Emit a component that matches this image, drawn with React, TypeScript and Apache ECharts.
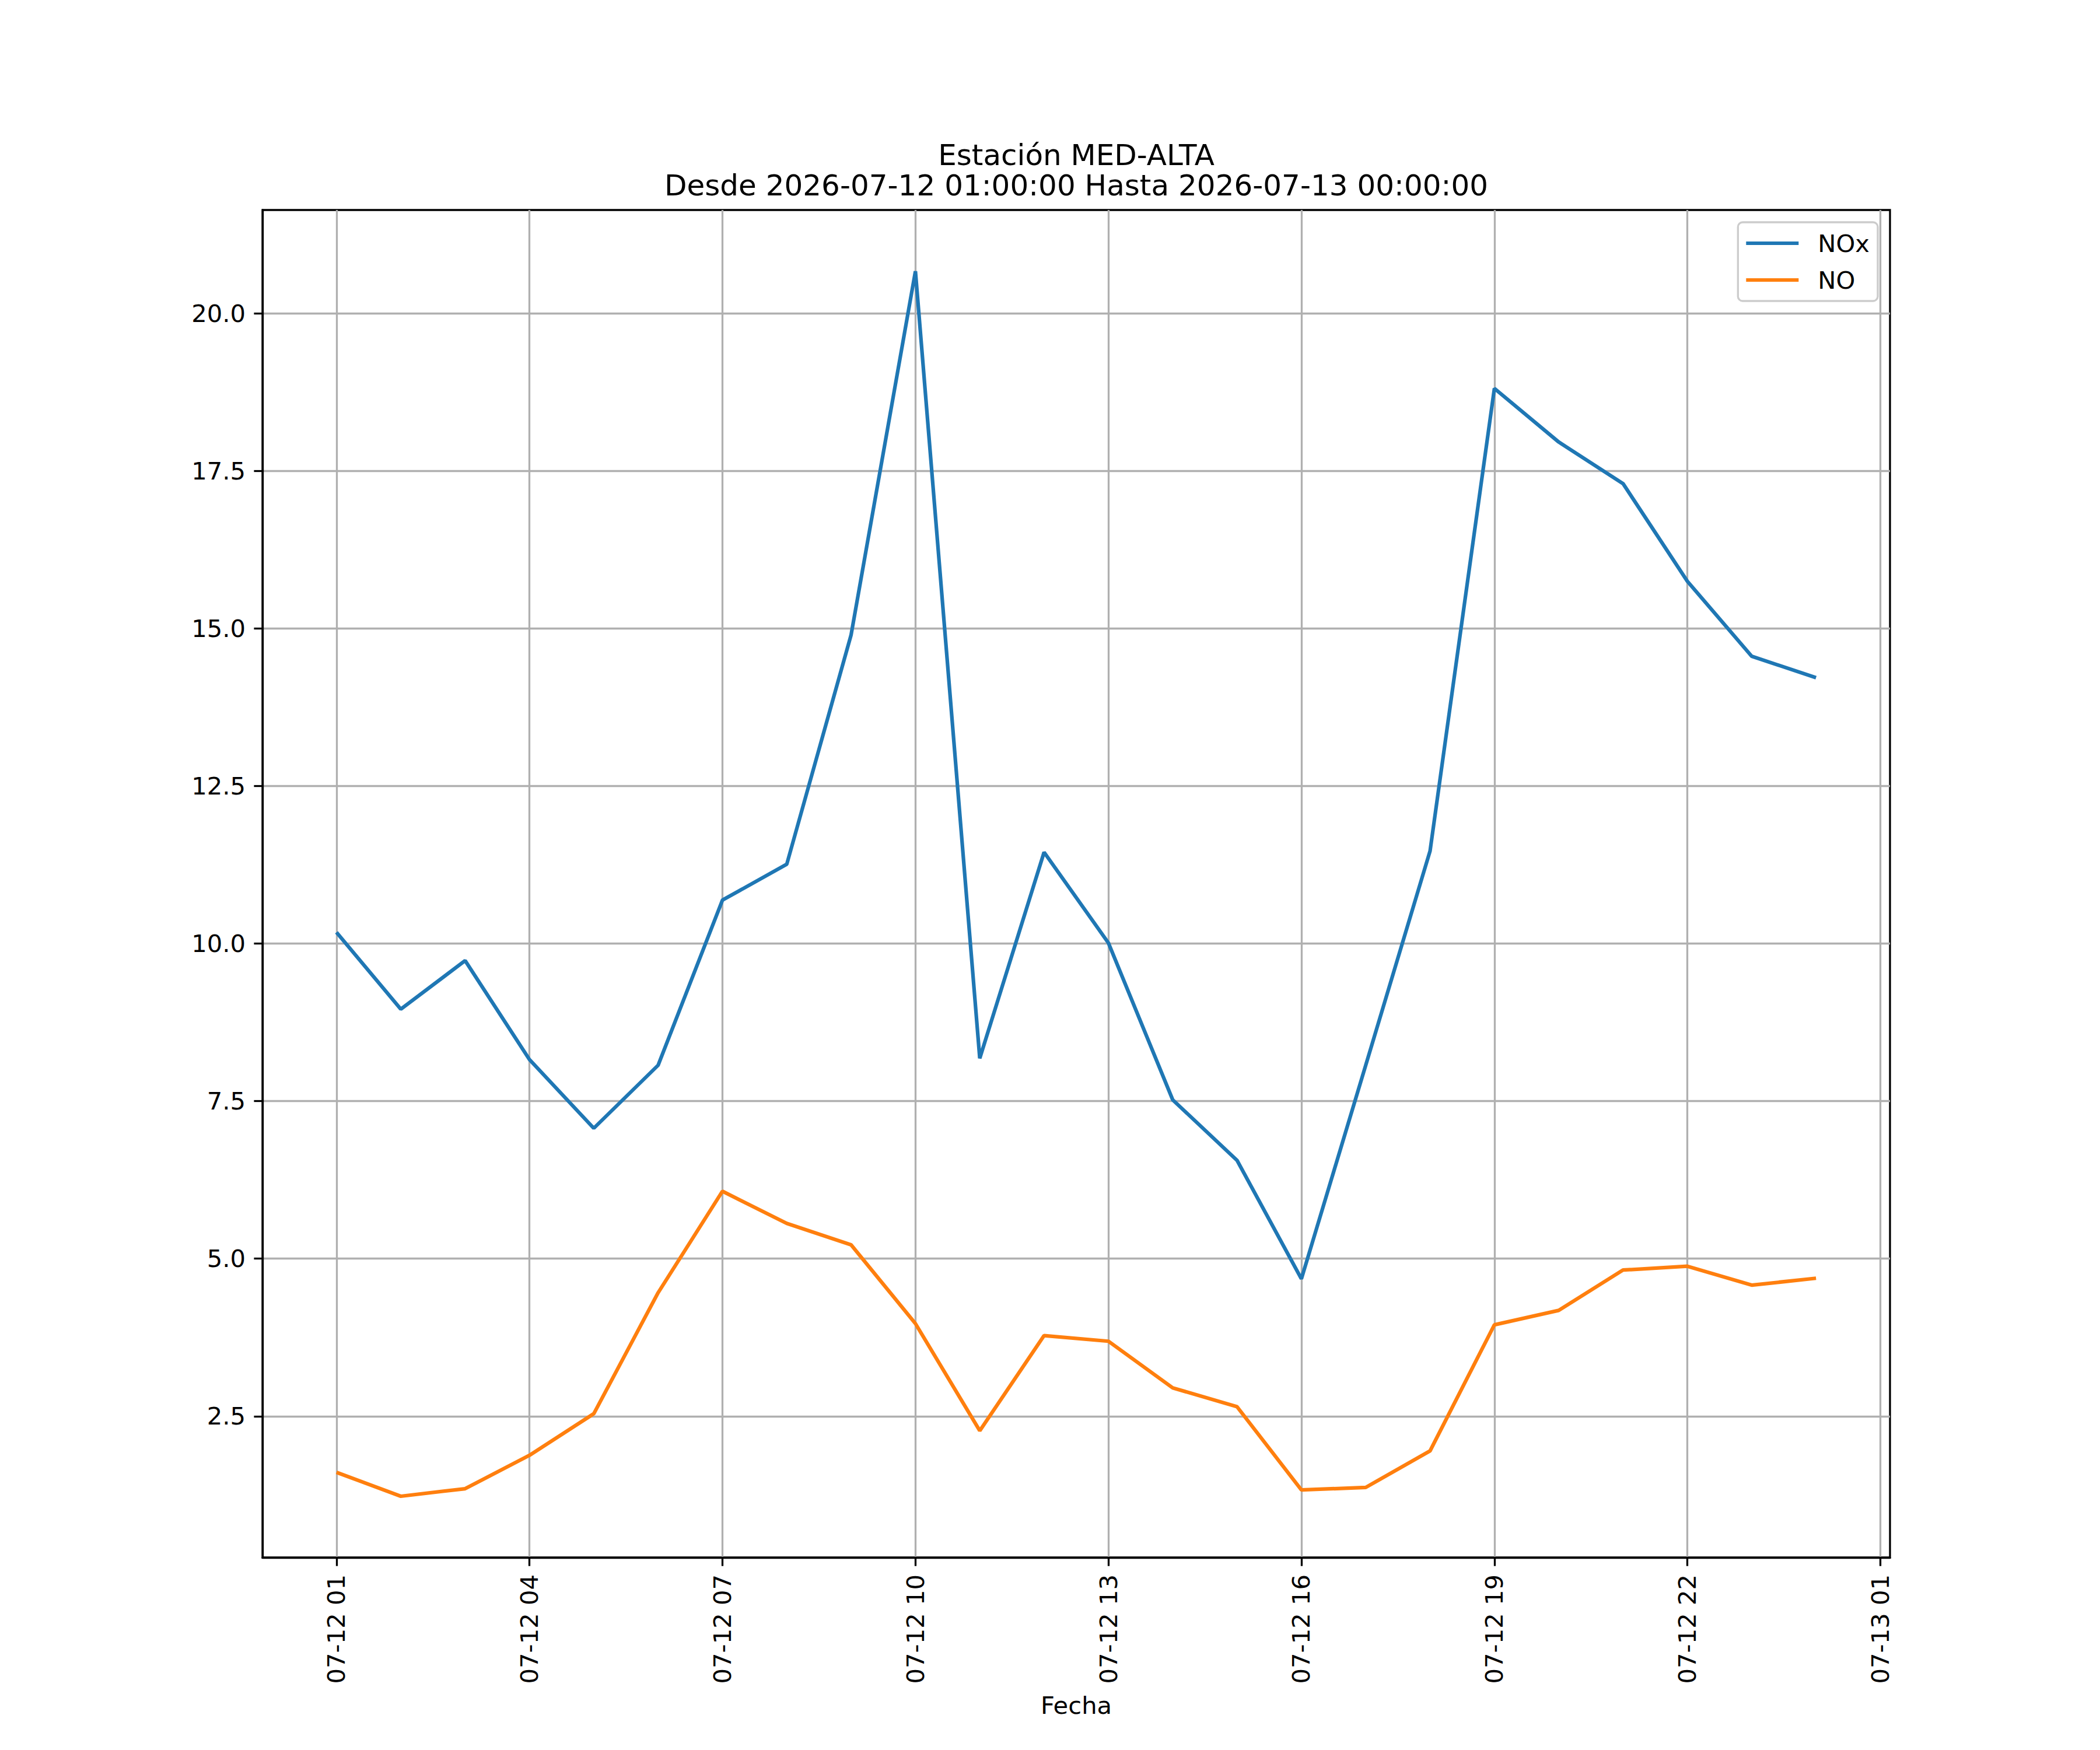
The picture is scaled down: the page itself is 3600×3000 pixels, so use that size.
import React, { useEffect, useRef } from 'react';
import * as echarts from 'echarts';

// horas contadas desde 2026-07-12 00:00 (1 = 07-12 01, 24 = 07-13 00)
const hours = [1, 2, 3, 4, 5, 6, 7, 8, 9, 10, 11, 12, 13, 14, 15, 16, 17, 18, 19, 20, 21, 22, 23, 24];

const noxValues = [
  10.18, 8.96, 9.73, 8.16, 7.07, 8.07, 10.69, 11.26, 14.9, 20.67, 8.18, 11.45,
  10.01, 7.52, 6.56, 4.68, 8.07, 11.47, 18.81, 17.96, 17.3, 15.75, 14.56, 14.22,
];

const noValues = [
  1.61, 1.23, 1.35, 1.88, 2.54, 4.46, 6.07, 5.56, 5.22, 3.97, 2.27, 3.78,
  3.69, 2.95, 2.65, 1.33, 1.37, 1.95, 3.95, 4.18, 4.82, 4.88, 4.58, 4.69,
];

const xTickHours = [1, 4, 7, 10, 13, 16, 19, 22, 25];
const xTickLabels = ['07-12 01', '07-12 04', '07-12 07', '07-12 10', '07-12 13', '07-12 16', '07-12 19', '07-12 22', '07-13 01'];
const yTicks = [2.5, 5, 7.5, 10, 12.5, 15, 17.5, 20];

const FONT = 'DejaVu Sans';
const FS = 41.7;
const LW = 3.3;

const App: React.FC = () => {
  const chartRef = useRef<HTMLDivElement>(null);

  useEffect(() => {
    document.body.style.margin = '0';
    if (!chartRef.current) return;
    const chart = echarts.init(chartRef.current, undefined, { renderer: 'svg' });

    // márgenes del 5% como matplotlib
    const xSpan = hours[hours.length - 1] - hours[0];
    const xMin = hours[0] - 0.05 * xSpan;
    const xMax = hours[hours.length - 1] + 0.05 * xSpan;
    const all = noxValues.concat(noValues);
    const lo = Math.min(...all);
    const hi = Math.max(...all);
    const yMin = lo - 0.05 * (hi - lo);
    const yMax = hi + 0.05 * (hi - lo);

    const labelStyle = { color: '#000', fontFamily: FONT, fontSize: FS };

    const option: echarts.EChartsOption = {
      animation: false,
      backgroundColor: '#fff',
      title: {
        text: 'Estación MED-ALTA\nDesde 2026-07-12 01:00:00 Hasta 2026-07-13 00:00:00',
        left: 1845,
        top: 240,
        textAlign: 'center',
        padding: 0,
        textStyle: {
          color: '#000',
          fontFamily: FONT,
          fontSize: 50,
          fontWeight: 'normal',
          lineHeight: 52,
        },
      },
      legend: {
        data: ['NOx', 'NO'],
        orient: 'vertical',
        align: 'left',
        right: 381,
        top: 381,
        padding: [12, 14, 12, 14],
        backgroundColor: 'rgba(255,255,255,0.8)',
        borderColor: '#cccccc',
        borderWidth: LW,
        borderRadius: 8,
        icon: 'rect',
        itemWidth: 90,
        itemHeight: 6,
        itemGap: 15,
        textStyle: { ...labelStyle, lineHeight: 48, padding: [0, 0, 0, 28] },
      },
      grid: {
        left: 450,
        right: 360,
        top: 360,
        bottom: 330,
        show: true,
        borderColor: '#000',
        borderWidth: LW,
      },
      xAxis: {
        type: 'value',
        min: xMin,
        max: xMax,
        name: 'Fecha',
        nameLocation: 'middle',
        nameGap: 232,
        nameTextStyle: labelStyle,
        axisLine: { show: true, onZero: false, lineStyle: { color: '#000', width: LW } },
        axisTick: {
          show: true,
          customValues: xTickHours,
          length: 14.6,
          lineStyle: { color: '#000', width: LW },
        },
        axisLabel: {
          ...labelStyle,
          customValues: xTickHours,
          rotate: 90,
          margin: 29,
          formatter: (v: number) => xTickLabels[xTickHours.indexOf(Math.round(v))] ?? '',
        },
        splitLine: { show: true, lineStyle: { color: '#b0b0b0', width: LW } },
      },
      yAxis: {
        type: 'value',
        min: yMin,
        max: yMax,
        axisLine: { show: true, onZero: false, lineStyle: { color: '#000', width: LW } },
        axisTick: {
          show: true,
          customValues: yTicks,
          length: 14.6,
          lineStyle: { color: '#000', width: LW },
        },
        axisLabel: {
          ...labelStyle,
          customValues: yTicks,
          margin: 29,
          formatter: (v: number) => v.toFixed(1),
        },
        splitLine: { show: true, lineStyle: { color: '#b0b0b0', width: LW } },
      },
      series: [
        {
          name: 'NOx',
          type: 'line',
          showSymbol: false,
          color: '#1f77b4',
          lineStyle: { width: 6.25, color: '#1f77b4' },
          data: hours.map((h, i) => [h, noxValues[i]]),
        },
        {
          name: 'NO',
          type: 'line',
          showSymbol: false,
          color: '#ff7f0e',
          lineStyle: { width: 6.25, color: '#ff7f0e' },
          data: hours.map((h, i) => [h, noValues[i]]),
        },
      ],
    };

    chart.setOption(option);
    return () => {
      chart.dispose();
    };
  }, []);

  return <div ref={chartRef} style={{ width: 3600, height: 3000 }} />;
};

export default App;
